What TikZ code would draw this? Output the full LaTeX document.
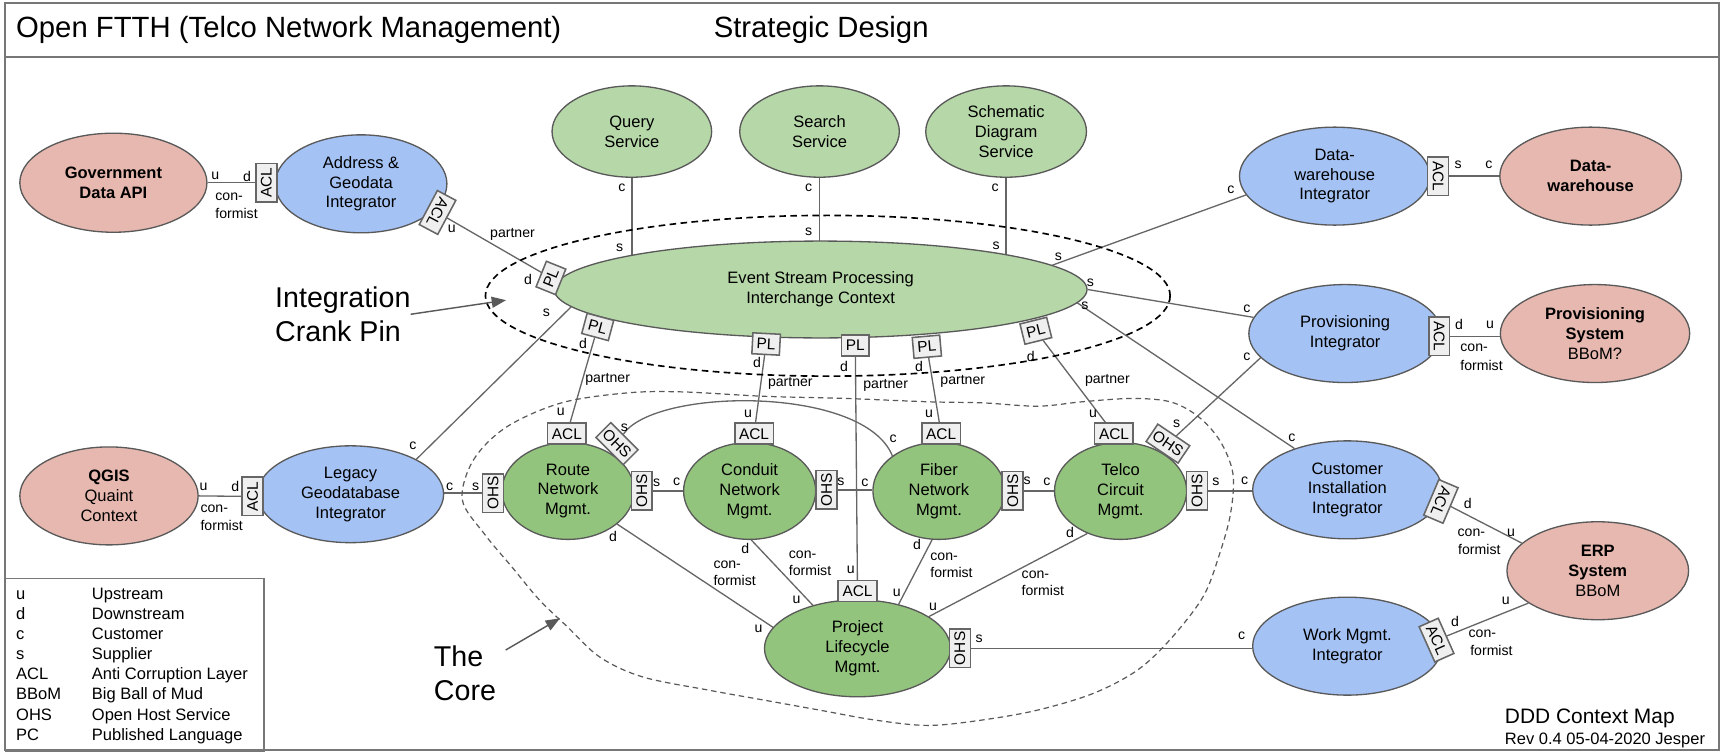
\documentclass[tikz,border=0pt]{standalone}
\usepackage{fontspec}
\setmainfont{Liberation Sans}
\usetikzlibrary{shapes.geometric,arrows.meta,backgrounds}
\definecolor{pinkc}{HTML}{E6B8AF}
\definecolor{bluec}{HTML}{A4C2F4}
\definecolor{lgreen}{HTML}{B6D7A8}
\definecolor{dgreen}{HTML}{93C47D}
\definecolor{edgec}{HTML}{595959}
\definecolor{linec}{HTML}{666666}
\definecolor{boxf}{HTML}{EFEFEF}
\definecolor{framec}{HTML}{777777}
\newcommand\fnode{\fontsize{15}{18}\selectfont}
\newcommand\flbl{\fontsize{12.8}{15}\selectfont}
\newcommand\fbx{\fontsize{14}{16}\selectfont}
\newcommand\fbig{\fontsize{26}{31}\selectfont}
\newcommand\ftitle{\fontsize{26.6}{30}\selectfont}
\newcommand\fleg{\fontsize{15}{18}\selectfont}
\newcounter{lbn}
\newcommand\clab[3]{\stepcounter{lbn}\node[lbl] (lab\arabic{lbn}) at (#1,#2) {#3};}
\newcommand\clabw[3]{\stepcounter{lbn}\node[lbl,anchor=west] (lab\arabic{lbn}) at (#1,#2) {#3};}
\begin{document}
\begin{tikzpicture}[x=1pt,y=-1pt,
  ctx/.style={ellipse, draw=edgec, line width=1.2pt, inner sep=0pt, align=center, font=\fnode},
  pinkctx/.style={ctx, fill=pinkc},
  bluectx/.style={ctx, fill=bluec},
  svcctx/.style={ctx, fill=lgreen},
  corectx/.style={ctx, fill=dgreen, minimum width=120pt, minimum height=88pt},
  tagbox/.style={rectangle, draw=linec, fill=boxf, line width=1.4pt, inner sep=0pt, font=\fbx, minimum width=35pt, minimum height=19pt},
  plbox/.style={tagbox, minimum width=25pt},
  wire/.style={draw=linec, line width=1.2pt},
  lbl/.style={font=\flbl, inner sep=0pt},
  legtxt/.style={font=\fleg, inner sep=0pt, anchor=base west},
  ptr/.style={draw=edgec, line width=1.3pt, -{Triangle[length=13pt,width=10pt]}},
]
\useasboundingbox (0,0) rectangle (1568,685);
% frame and title
\draw[framec, line width=1.8pt] (4.5,3) rectangle (1561.5,681.3);
\draw[framec, line width=1.8pt] (4.5,51.5) -- (1561.5,51.5);
\node[font=\ftitle, anchor=west, inner sep=0pt] (title) at (14.5,27.3) {Open FTTH (Telco Network Management)};
\node[font=\ftitle, inner sep=0pt] (subtitle) at (746,27.3) {Strategic Design};

% contexts
\node[pinkctx, minimum width=170pt, minimum height=90pt] (gov) at (103,166) {\textbf{Government}\\\textbf{Data API}};
\node[bluectx, minimum width=156pt, minimum height=89pt] (addr) at (328,167) {Address \&\\Geodata\\Integrator};
\node[pinkctx, minimum width=162pt, minimum height=89pt] (qgis) at (99,450.5) {\textbf{QGIS}\\Quaint\\Context};
\node[bluectx, minimum width=169pt, minimum height=88pt] (legacy) at (318.5,449) {Legacy\\Geodatabase\\Integrator};
\node[svcctx, minimum width=145pt, minimum height=83pt] (query) at (574,119.5) {Query\\Service};
\node[svcctx, minimum width=145pt, minimum height=83pt] (search) at (744.5,119.5) {Search\\Service};
\node[svcctx, minimum width=146pt, minimum height=83pt] (schem) at (914,119.5) {Schematic\\Diagram\\Service};
\node[svcctx, minimum width=484pt, minimum height=88pt] (esp) at (745.5,263) {Event Stream Processing\\Interchange Context};
\node[bluectx, minimum width=173pt, minimum height=89pt] (dwi) at (1212.5,160) {Data-\\warehouse\\Integrator};
\node[pinkctx, minimum width=165pt, minimum height=89pt] (dw) at (1445,160) {\textbf{Data-}\\\textbf{warehouse}};
\node[bluectx, minimum width=175pt, minimum height=89pt] (pi) at (1222,303) {Provisioning\\Integrator};
\node[pinkctx, minimum width=172pt, minimum height=89pt] (ps) at (1449,303) {\textbf{Provisioning}\\\textbf{System}\\BBoM?};
\node[bluectx, minimum width=172pt, minimum height=89pt] (ci) at (1224,445) {Customer\\Installation\\Integrator};
\node[pinkctx, minimum width=165pt, minimum height=89pt] (erp) at (1451.5,518.5) {\textbf{ERP}\\\textbf{System}\\BBoM};
\node[bluectx, minimum width=172pt, minimum height=89pt] (work) at (1224,587) {Work Mgmt.\\Integrator};
\node[corectx] (route) at (516,446) {Route\\Network\\Mgmt.};
\node[corectx] (conduit) at (681,446) {Conduit\\Network\\Mgmt.};
\node[corectx] (fiber) at (853,446) {Fiber\\Network\\Mgmt.};
\node[corectx] (telco) at (1018,446) {Telco\\Circuit\\Mgmt.};
\node[corectx, minimum width=169pt] (project) at (779,589) {Project\\Lifecycle\\Mgmt.};

% pattern boxes
\node[tagbox, rotate=90] (aclA1) at (242,166) {ACL};
\node[tagbox, rotate=-118] (aclA2) at (397.5,193) {ACL};
\node[plbox, rotate=68] (plL) at (500.5,252.5) {PL};
\node[plbox, rotate=-15] (pl1) at (543,297) {PL};
\node[plbox, rotate=-3] (pl2) at (696,312.5) {PL};
\node[plbox] (pl3) at (777,314) {PL};
\node[plbox, rotate=5] (pl4) at (842,315) {PL};
\node[plbox, rotate=14] (pl5) at (941,300.5) {PL};
\node[tagbox] (aclR) at (515,394) {ACL};
\node[tagbox] (aclC) at (685,394) {ACL};
\node[tagbox] (aclF) at (855,394) {ACL};
\node[tagbox] (aclT) at (1012,394) {ACL};
\node[tagbox] (aclP) at (779,537) {ACL};
\node[tagbox, rotate=90] (ohsRL) at (448,448) {OHS};
\node[tagbox, rotate=90] (ohsR) at (583,446) {OHS};
\node[tagbox, rotate=-45] (ohsR2) at (560.5,403) {OHS};
\node[tagbox, rotate=90] (ohsC) at (751,445) {OHS};
\node[tagbox, rotate=90] (ohsF) at (920,446) {OHS};
\node[tagbox, rotate=90] (ohsT) at (1087.5,446) {OHS};
\node[tagbox, rotate=-34] (ohsT2) at (1061,403) {OHS};
\node[tagbox, rotate=90] (ohsP) at (872,589) {OHS};
\node[tagbox, rotate=-90] (aclDW) at (1306.5,160) {ACL};
\node[tagbox, rotate=-90] (aclPI) at (1307.5,305.5) {ACL};
\node[tagbox, rotate=-113] (aclCI) at (1309,455.5) {ACL};
\node[tagbox, rotate=-66] (aclW) at (1305,581.5) {ACL};
\node[tagbox, rotate=90] (aclL) at (229.5,451) {ACL};

% connectors
\begin{scope}[on background layer]
\draw[wire] (gov.east) -- (aclA1);
\draw[wire] (aclA2) -- (plL);
\draw[wire] (query.south) -- (query.south |- esp.center);
\draw[wire] (search.south) -- (search.south |- esp.center);
\draw[wire] (schem.south) -- (schem.south |- esp.center);
\draw[wire] (esp.6) -- (dwi.192);
\draw[wire] (aclDW) -- (dw.west);
\draw[wire] (esp.east) -- (pi.170);
\draw[wire] (esp.-3) -- (ci.142);
\draw[wire] (aclPI) -- (aclPI -| ps.west);
\draw[wire] (ohsT2) -- (pi.196);
\draw[wire] (ohsT) -- (ohsT -| ci.west);
\draw[wire] (aclCI) -- (erp.160);
\draw[wire] (aclW) -- (erp.205);
\draw[wire] (ohsP) -- (ohsP -| work.west);
\draw[wire] (esp.184) -- (legacy.28);
\draw[wire] (qgis.east) -- (aclL);
\draw[wire] (ohsRL -| legacy.east) -- (ohsRL);
\draw[wire] (ohsR) -- (conduit.west);
\draw[wire] (ohsC) -- (ohsC -| fiber.west);
\draw[wire] (ohsF) -- (telco.west);
\draw[wire] (pl1) -- (aclR);
\draw[wire] (pl2) -- (aclC);
\draw[wire] (pl3) -- (aclP);
\draw[wire] (pl4) -- (aclF);
\draw[wire] (pl5) -- (aclT);
\draw[wire] (ohsR2) .. controls (595,352) and (785,350) .. (fiber.143);
\draw[wire] (route.-34) -- (project.166);
\draw[wire] (conduit.-88) -- (project.136);
\draw[wire] (fiber.-98) -- (project.47);
\draw[wire] (telco.232) -- (project.24);
\end{scope}

% boundaries
\draw[black, line width=1.5pt, dash pattern=on 6pt off 4pt] (752,268.7) ellipse [x radius=311, y radius=73];
\draw[edgec, line width=1.1pt, dash pattern=on 5pt off 3.5pt] plot[smooth cycle, tension=0.55] coordinates {
 (420,454) (430,418) (460,388) (510,366) (569,357) (619,356) (694,360) (769,362) (843,365) (893,366)
 (943,369) (983,365) (1028,362) (1063,365) (1088,378) (1108,400) (1120,430) (1118,466) (1108,503)
 (1093,542) (1063,581) (1033,609) (993,630) (943,645) (893,654) (843,659) (794,654) (744,645)
 (694,636) (644,627) (584,615) (545,597) (515,569) (490,545) (465,515) (440,485)};

% callouts
\node[font=\fbig, align=left, anchor=west, inner sep=0pt] (integ) at (249.8,285.5) {Integration\\Crank Pin};
\coordinate (ihead) at (459.7,272.7);
\draw[ptr] (integ.east) -- (ihead);
\node[font=\fbig, align=left, anchor=west, inner sep=0pt] (core) at (394,612) {The\\Core};
\coordinate (ctail) at (459.4,590.5);
\coordinate (chead) at (508.7,561.7);
\draw[ptr] (ctail) -- (chead);

% labels
\clab{195.6}{160}{u}\clab{224.5}{160}{d}\clabw{195.5}{178.7}{con-}\clabw{195.5}{193.6}{formist}
\clab{410.4}{208}{u}\clab{465.6}{212.6}{partner}\clab{479.7}{253.5}{d}
\clab{565}{170.5}{c}\clab{563}{225}{s}
\clab{734.5}{170.5}{c}\clab{734.5}{211}{s}
\clab{904}{170.5}{c}\clab{905}{223}{s}
\clab{961.6}{233}{s}\clab{1118.3}{172.6}{c}
\clab{1324.6}{150}{s}\clab{1352.6}{150}{c}
\clab{990.5}{257}{s}\clab{1132.8}{280.8}{c}
\clab{985.6}{278}{s}\clab{1173.7}{398}{c}
\clab{1325.4}{295.2}{d}\clab{1353.6}{295.2}{u}\clabw{1326.5}{316}{con-}\clabw{1326.5}{331.6}{formist}
\clab{1069}{384.6}{s}\clab{1132.8}{324.4}{c}
\clab{496.4}{284}{s}\clab{375}{405}{c}
\clab{529.6}{312}{d}\clab{552}{344.4}{partner}\clab{509.4}{374}{u}
\clab{687.7}{329.5}{d}\clab{718}{348}{partner}\clab{679.5}{376}{u}
\clab{766.7}{332.5}{d}\clab{804.6}{349.7}{partner}\clab{772.8}{517.8}{u}
\clab{834.8}{332.5}{d}\clab{874.6}{346.7}{partner}\clab{844}{376}{u}
\clab{936.4}{323.4}{d}\clab{1006}{345.2}{partner}\clab{993}{376}{u}
\clab{185}{442}{u}\clab{213.7}{442}{d}\clabw{182}{461.8}{con-}\clabw{182}{477}{formist}
\clab{408.4}{442}{c}\clab{432}{442}{s}
\clab{596.5}{438.5}{s}\clab{614.7}{437.6}{c}
\clab{764}{437.6}{s}\clab{785.8}{438.5}{c}
\clab{933}{436.7}{s}\clab{951}{437.6}{c}
\clab{1104.6}{437.6}{s}\clab{1130.8}{436.6}{c}
\clab{567.3}{388.5}{s}\clab{811.3}{399}{c}
\clab{557}{487}{d}\clabw{648}{513.3}{con-}\clabw{648}{527}{formist}\clab{689}{571.4}{u}
\clab{677}{498}{d}\clabw{716.5}{503.6}{con-}\clabw{716.5}{517.8}{formist}\clab{723.6}{545}{u}
\clab{833}{495}{d}\clabw{845}{505.7}{con-}\clabw{845}{520}{formist}\clab{814.7}{539}{u}
\clab{972}{484}{d}\clabw{928}{522.4}{con-}\clabw{928}{536.6}{formist}\clab{847.6}{551}{u}
\clab{889.4}{580}{s}\clab{1128}{577.8}{c}
\clab{1333.4}{457.8}{d}\clabw{1324}{484}{con-}\clabw{1324.5}{499.6}{formist}\clab{1372.6}{484}{u}
\clab{1321.8}{564.8}{d}\clabw{1334}{575.3}{con-}\clabw{1335.5}{591}{formist}\clab{1368}{545.7}{u}

% legend
\node[draw=framec, line width=1.4pt, minimum width=234.7pt, minimum height=156.5pt, anchor=north west, inner sep=0pt] (legend) at (4.5,524.8) {};
\foreach \ka/\kb [count=\i] in {u/Upstream, d/Downstream, c/Customer, s/Supplier, ACL/Anti Corruption Layer, BBoM/Big Ball of Mud, OHS/Open Host Service, PC/Published Language}{
  \node[legtxt] (lk\i) at (14.5,526+18.3*\i) {\ka};
  \node[legtxt] (lv\i) at (83.3,526+18.3*\i) {\kb};
}

% footer
\node[font=\fontsize{19}{22}\selectfont, anchor=west, inner sep=0pt] (ddd) at (1367,652.5) {DDD Context Map};
\node[font=\fontsize{15}{18}\selectfont, anchor=west, inner sep=0pt] (rev) at (1367,672.3) {Rev 0.4 05-04-2020 Jesper};
\end{tikzpicture}
\end{document}
